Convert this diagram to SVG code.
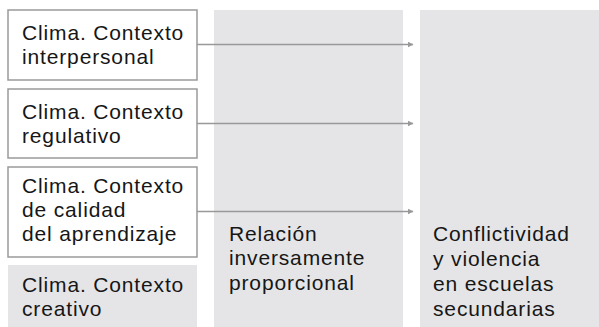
<svg xmlns="http://www.w3.org/2000/svg" width="599" height="327" viewBox="0 0 599 327">
<defs>
<style>
.t{font-family:"Liberation Sans",Arial,Helvetica,sans-serif;font-size:21px;letter-spacing:0.85px;fill:#161616}
.box{fill:#ffffff;stroke:#9a9a9a;stroke-width:1.5}
.gray{fill:#e5e5e7}
.conn{stroke:#999999;stroke-width:1.5;fill:none}
</style>
<marker id="ah" viewBox="0 0 6 6" refX="5.5" refY="3" markerWidth="6" markerHeight="6" markerUnits="userSpaceOnUse" orient="auto">
<path d="M0,0 L6,3 L0,6 Z" fill="#999999"/>
</marker>
</defs>
<g id="col-mid"><rect class="gray" x="214" y="10" width="189" height="317"/>
<text class="t" x="229" y="241">Relación</text>
<text class="t" x="229" y="265">inversamente</text>
<text class="t" x="229" y="290">proporcional</text></g>
<g id="col-right"><rect class="gray" x="420" y="10" width="179" height="317"/>
<text class="t" x="433" y="241">Conflictividad</text>
<text class="t" x="433" y="266">y violencia</text>
<text class="t" x="433" y="291">en escuelas</text>
<text class="t" x="433" y="316">secundarias</text></g>
<g id="n1"><rect class="box" x="8" y="10" width="189" height="70"/>
<text class="t" x="22" y="40">Clima. Contexto</text>
<text class="t" x="22" y="64">interpersonal</text></g>
<g id="n2"><rect class="box" x="8" y="89" width="189" height="69"/>
<text class="t" x="22" y="119">Clima. Contexto</text>
<text class="t" x="22" y="143">regulativo</text></g>
<g id="n3"><rect class="box" x="8" y="167" width="189" height="90"/>
<text class="t" x="22" y="193">Clima. Contexto</text>
<text class="t" x="22" y="217">de calidad</text>
<text class="t" x="22" y="241">del aprendizaje</text></g>
<g id="n4"><rect class="gray" x="8" y="265" width="189" height="62"/>
<text class="t" x="22" y="292">Clima. Contexto</text>
<text class="t" x="22" y="316">creativo</text></g>
<g id="connectors">
<line class="conn" x1="197" y1="44.5" x2="413" y2="44.5" marker-end="url(#ah)"/>
<line class="conn" x1="197" y1="123.5" x2="413" y2="123.5" marker-end="url(#ah)"/>
<line class="conn" x1="197" y1="211.5" x2="413" y2="211.5" marker-end="url(#ah)"/>
</g>
</svg>
